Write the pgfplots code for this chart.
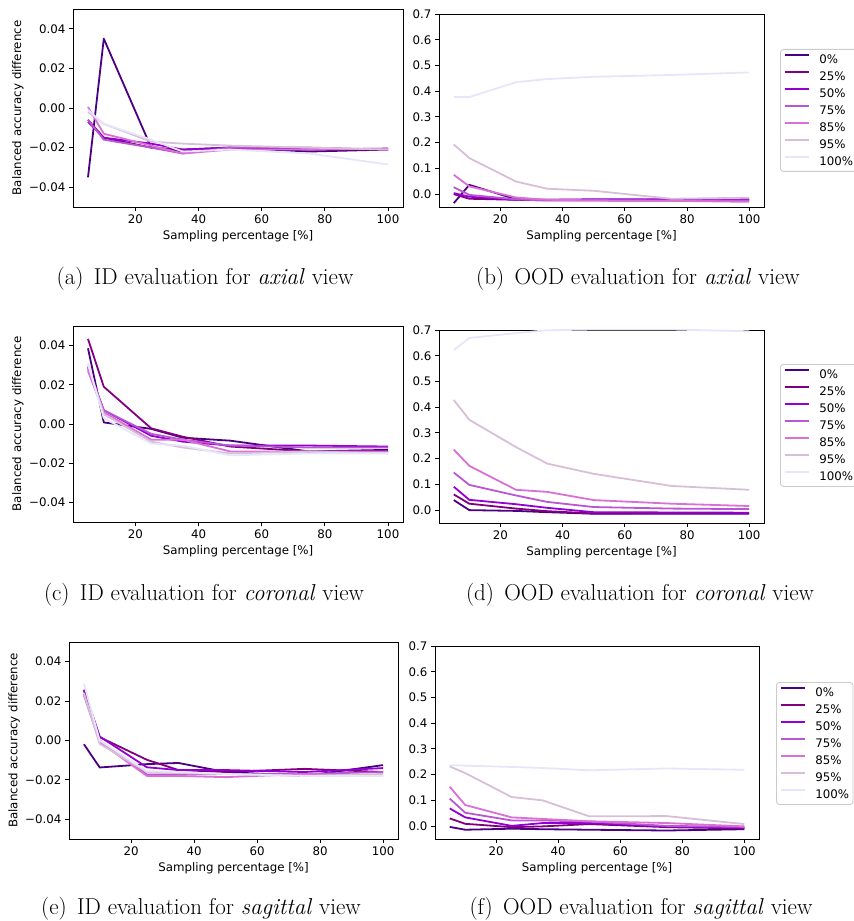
\documentclass[border=0pt]{standalone}
\usepackage{fontspec}
\usepackage{pgfplots}
\usepackage{pgfplotstable}
\pgfplotsset{compat=1.18}
\newfontfamily\dejavu{DejaVu Sans}
\definecolor{c0}{HTML}{4B0082}
\definecolor{c25}{HTML}{800080}
\definecolor{c50}{HTML}{9400D3}
\definecolor{c75}{HTML}{BA55D3}
\definecolor{c85}{HTML}{DA70D6}
\definecolor{c95}{HTML}{D8BFD8}
\definecolor{c100}{HTML}{E6E6FA}

\pgfplotstableread{
x p0 p25 p50 p75 p85 p95 p100
5 -0.035 -0.006 -0.007 -0.006 0.0005 -0.002 -0.001
10 0.035 -0.015 -0.015 -0.016 -0.013 -0.008 -0.008
25 -0.020 -0.020 -0.018 -0.020 -0.019 -0.017 -0.016
35 -0.022 -0.021 -0.021 -0.023 -0.023 -0.018 -0.022
50 -0.020 -0.020 -0.020 -0.020 -0.021 -0.019 -0.021
75 -0.022 -0.021 -0.021 -0.020 -0.021 -0.020 -0.023
100 -0.021 -0.021 -0.0205 -0.021 -0.0205 -0.021 -0.0285
}\tA
\pgfplotstableread{
x p0 p25 p50 p75 p85 p95 p100
5 -0.035 0.000 0.004 0.027 0.075 0.193 0.378
10 0.036 -0.018 -0.010 -0.003 0.030 0.140 0.377
25 -0.020 -0.022 -0.022 -0.020 -0.013 0.049 0.435
35 -0.022 -0.024 -0.022 -0.025 -0.022 0.021 0.447
50 -0.022 -0.024 -0.020 -0.025 -0.024 0.013 0.456
75 -0.022 -0.025 -0.020 -0.025 -0.026 -0.018 0.463
100 -0.022 -0.025 -0.020 -0.025 -0.030 -0.014 0.473
}\tB
\pgfplotstableread{
x p0 p25 p50 p75 p85 p95 p100
5 0.0386 0.0434 0.029 0.028 0.027 0.030 0.031
10 0.0008 0.019 0.007 0.007 0.006 0.005 0.003
25 -0.0025 -0.0022 -0.006 -0.005 -0.008 -0.009 -0.010
35 -0.007 -0.0065 -0.009 -0.008 -0.008 -0.012 -0.011
50 -0.0085 -0.0115 -0.011 -0.011 -0.014 -0.015 -0.016
75 -0.014 -0.014 -0.011 -0.012 -0.014 -0.014 -0.015
100 -0.0132 -0.014 -0.0115 -0.012 -0.014 -0.015 -0.015
}\tC
\pgfplotstableread{
x p0 p25 p50 p75 p85 p95 p100
5 0.039 0.061 0.091 0.146 0.235 0.428 0.622
10 0.000 0.025 0.040 0.098 0.172 0.351 0.669
25 -0.003 0.006 0.023 0.057 0.079 0.245 0.688
35 -0.008 -0.004 0.009 0.032 0.071 0.181 0.699
50 -0.014 -0.013 -0.008 0.012 0.039 0.141 0.702
75 -0.014 -0.012 -0.009 0.006 0.025 0.094 0.702
100 -0.014 -0.012 -0.010 0.004 0.016 0.079 0.695
}\tD
\pgfplotstableread{
x p0 p25 p50 p75 p85 p95 p100
5 -0.0019 0.0254 0.0258 0.0237 0.0229 0.024 0.0288
10 -0.0137 0.0017 0.002 0.0 -0.0008 -0.0017 0.0
25 -0.012 -0.0098 -0.0136 -0.0173 -0.018 -0.016 -0.0156
35 -0.0114 -0.015 -0.015 -0.0173 -0.018 -0.0166 -0.016
50 -0.016 -0.016 -0.015 -0.017 -0.0186 -0.017 -0.017
75 -0.018 -0.0144 -0.016 -0.017 -0.017 -0.018 -0.018
100 -0.0125 -0.016 -0.014 -0.016 -0.0178 -0.017 -0.018
}\tE
\pgfplotstableread{
x p0 p25 p50 p75 p85 p95 p100
5 -0.003 0.030 0.069 0.107 0.153 0.232 0.237
10 -0.014 0.009 0.034 0.052 0.082 0.206 0.235
25 -0.010 -0.004 0.001 0.022 0.034 0.113 0.230
35 -0.012 -0.001 0.012 0.022 0.028 0.100 0.226
50 -0.014 0.008 0.012 0.018 0.019 0.038 0.217
75 -0.017 -0.004 -0.001 0.001 0.012 0.039 0.224
100 -0.012 -0.009 -0.006 -0.003 -0.001 0.008 0.219
}\tF

\newcommand{\mplfont}{\dejavu\fontsize{11.8}{14}\selectfont}
\pgfplotsset{
  mpl/.style={
    scale only axis, anchor=south west,
    xmin=0.25, xmax=104.75,
    scaled x ticks=false, scaled y ticks=false,
    xtick={20,40,60,80,100}, xticklabels={20,40,60,80,100},
    tick align=outside, tick pos=left, major tick length=4.1pt,
    axis line style={line width=0.9pt},
    every tick/.style={black, line width=0.9pt},
    tick label style={font=\mplfont},
    label style={font=\mplfont},
    xlabel={Sampling percentage [\%]},
    xlabel style={at={(axis description cs:0.5,0)}, anchor=center, yshift=-29pt},
    cycle list={{c0,line width=1.8pt,line join=round},{c25,line width=1.8pt,line join=round},{c50,line width=1.8pt,line join=round},{c75,line width=1.8pt,line join=round},{c85,line width=1.8pt,line join=round},{c95,line width=1.8pt,line join=round},{c100,line width=1.8pt,line join=round}},
  },
  idax/.style={mpl,
    ymin=-0.05, ymax=0.05,
    ytick={-0.04,-0.02,0,0.02,0.04},
    yticklabels={−0.04,−0.02,0.00,0.02,0.04},
    ylabel={Balanced accuracy difference},
    ylabel style={at={(axis description cs:-0.167,0.5)}, anchor=center},
  },
  oodax/.style={mpl,
    ymin=-0.05, ymax=0.7,
    ytick={0,0.1,0.2,0.3,0.4,0.5,0.6,0.7},
    yticklabels={0.0,0.1,0.2,0.3,0.4,0.5,0.6,0.7},
    legend cell align=left,
    legend image code/.code={\draw[##1] (0pt,4.3pt) -- (24pt,4.3pt);},
    legend style={at={(axis description cs:1,1)}, anchor=north west,
      draw=black!20, line width=0.9pt, rounded corners=3pt, fill=white,
      font=\mplfont, inner xsep=4pt, inner ysep=1.5pt, column sep=9pt,
      nodes={inner sep=0pt, text height=12.8pt, text depth=4.2pt}},
    legend entries={0\%,25\%,50\%,75\%,85\%,95\%,100\%},
  },
}
\newcommand{\allplots}[1]{%
  \addplot table[x=x,y=p0]{#1};
  \addplot table[x=x,y=p25]{#1};
  \addplot table[x=x,y=p50]{#1};
  \addplot table[x=x,y=p75]{#1};
  \addplot table[x=x,y=p85]{#1};
  \addplot table[x=x,y=p95]{#1};
  \addplot table[x=x,y=p100]{#1};}

\begin{document}
\begin{tikzpicture}
\useasboundingbox (0,0) rectangle (854pt,921pt);
\begin{axis}[idax, at={(73pt,714pt)}, width=330pt, height=198pt]
\allplots{\tA}
\end{axis}
\begin{axis}[oodax, at={(439pt,714pt)}, width=325pt, height=193pt,
  legend style={xshift=16pt, yshift=-35pt}]
\allplots{\tB}
\end{axis}
\begin{axis}[idax, at={(73pt,399pt)}, width=330pt, height=196pt]
\allplots{\tC}
\end{axis}
\begin{axis}[oodax, at={(439pt,398pt)}, width=325pt, height=193pt,
  legend style={xshift=16pt, yshift=-34pt}]
\allplots{\tD}
\end{axis}
\begin{axis}[idax, at={(69pt,82pt)}, width=329pt, height=197pt]
\allplots{\tE}
\end{axis}
\begin{axis}[oodax, at={(435pt,82pt)}, width=324pt, height=193pt,
  legend style={xshift=17pt, yshift=-36pt}]
\allplots{\tF}
\end{axis}
\begin{scope}[every node/.style={font=\fontsize{23}{27}\selectfont}]
\node at (205pt,642pt) {(a)\hspace{0.15em} ID evaluation for \textit{axial} view};
\node at (638pt,642pt) {(b)\hspace{0.15em} OOD evaluation for \textit{axial} view};
\node at (204pt,326pt) {(c)\hspace{0.15em} ID evaluation for \textit{coronal} view};
\node at (640pt,326pt) {(d)\hspace{0.15em} OOD evaluation for \textit{coronal} view};
\node at (201pt,12pt) {(e)\hspace{0.15em} ID evaluation for \textit{sagittal} view};
\node at (641pt,12pt) {(f)\hspace{0.15em} OOD evaluation for \textit{sagittal} view};
\end{scope}
\end{tikzpicture}
\end{document}
